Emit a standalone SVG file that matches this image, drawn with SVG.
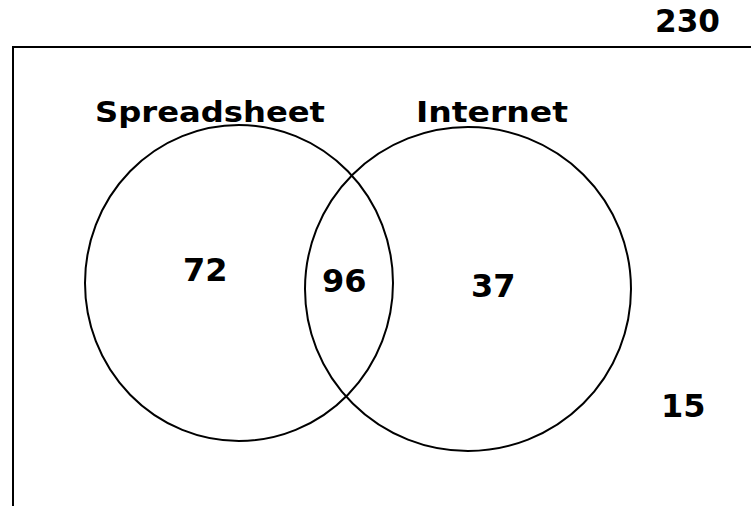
<svg xmlns="http://www.w3.org/2000/svg" width="751" height="506" viewBox="0 0 751 506">
<style>
.t{font-family:"DejaVu Sans","Liberation Sans",sans-serif;font-weight:bold;fill:#000}
.lbl{font-size:28px}
.num{font-size:32px}
.c{fill:none;stroke:#000;stroke-width:2}
</style>
<rect width="751" height="506" fill="#fff"/>
<g id="frame">
<path d="M13 506 V47 H751" fill="none" stroke="#000" stroke-width="2"/>
<text class="t num" x="655" y="32" textLength="65" lengthAdjust="spacingAndGlyphs">230</text>
<text class="t num" x="661" y="417">15</text>
</g>
<g id="spreadsheet">
<ellipse class="c" cx="239" cy="283" rx="154" ry="158"/>
<text class="t lbl" x="95" y="122" textLength="230" lengthAdjust="spacingAndGlyphs">Spreadsheet</text>
<text class="t num" x="183" y="281">72</text>
</g>
<g id="internet">
<ellipse class="c" cx="468" cy="289" rx="163" ry="162"/>
<text class="t lbl" x="416" y="122" textLength="152" lengthAdjust="spacingAndGlyphs">Internet</text>
<text class="t num" x="471" y="297">37</text>
</g>
<g id="intersection">
<text class="t num" x="322" y="292">96</text>
</g>
<g id="connectors"/>
</svg>
